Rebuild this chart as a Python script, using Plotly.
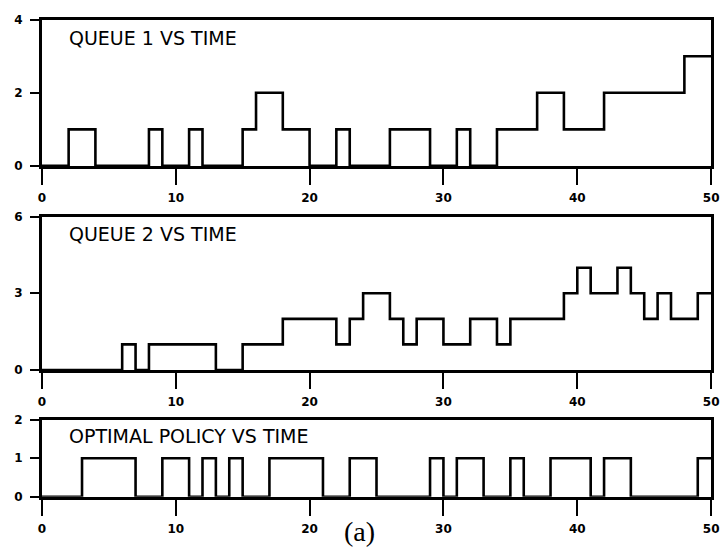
import plotly.graph_objects as go

# ---- data (step change times and the value held from that time) ----
q1_t = [0, 2, 4, 8, 9, 11, 12, 15, 16, 18, 20, 22, 23, 26, 29, 31, 32, 34, 37, 39, 42, 48, 50]
q1_v = [0, 1, 0, 1, 0, 1, 0, 1, 2, 1, 0, 1, 0, 1, 0, 1, 0, 1, 2, 1, 2, 3, 3]

q2_t = [0, 6, 7, 8, 13, 15, 18, 22, 23, 24, 26, 27, 28, 30, 32, 34, 35, 39, 40, 41, 43, 44, 45, 46, 47, 49, 50]
q2_v = [0, 1, 0, 1, 0, 1, 2, 1, 2, 3, 2, 1, 2, 1, 2, 1, 2, 3, 4, 3, 4, 3, 2, 3, 2, 3, 3]

pol_t = [0, 3, 7, 9, 11, 12, 13, 14, 15, 17, 21, 23, 25, 29, 30, 31, 33, 35, 36, 38, 41, 42, 44, 49, 50]
pol_v = [0, 1, 0, 1, 0, 1, 0, 1, 0, 1, 0, 1, 0, 1, 0, 1, 0, 1, 0, 1, 0, 1, 0, 1, 1]

titles = ["QUEUE 1 VS TIME", "QUEUE 2 VS TIME", "OPTIMAL POLICY VS TIME"]
y_ranges = [[0, 4], [0, 6], [0, 2]]
y_labels = [[0, 2, 4], [0, 3, 6], [0, 1, 2]]
x_labels = [0, 10, 20, 30, 40, 50]
caption = "(a)"

W, H = 728, 559
X0, X1 = 38.5, 719
panels_px = [(13, 163), (215, 372.3), (423.3, 502.3)]
title_y_px = [32, 233, 440]

fig = go.Figure()
series = [(q1_t, q1_v), (q2_t, q2_v), (pol_t, pol_v)]

tickfont = dict(family="DejaVu Sans", size=12, color="black", weight="bold")
for i, ((t, v), (top, bot)) in enumerate(zip(series, panels_px)):
    n = "" if i == 0 else str(i + 1)
    m = str(i + 4)   # overlay axes: minor ticks outside
    k = str(i + 7)   # overlay axes: minor ticks inside (crossing look)
    xdom = [X0 / W, X1 / W]
    ydom = [1 - bot / H, 1 - top / H]
    fig.add_trace(go.Scatter(x=t, y=v, mode="lines", line=dict(shape="hv", color="black", width=2.6),
                             xaxis="x" + n, yaxis="y" + n, showlegend=False, hoverinfo="skip"))
    fig.layout["xaxis" + n] = dict(
        domain=xdom, range=[0, 50], anchor="y" + n,
        showline=True, linecolor="black", linewidth=2.6, mirror=True,
        showgrid=False, zeroline=False,
        tickvals=x_labels, ticktext=[str(v) for v in x_labels],
        ticks="outside", ticklen=16, tickwidth=2.4, tickcolor="black",
        tickfont=tickfont, ticklabelstandoff=3,
    )
    for ax, direction, ln in ((m, "outside", 5), (k, "inside", 4)):
        fig.layout["xaxis" + ax] = dict(
            domain=xdom, range=[0, 50], anchor="y" + n, overlaying="x" + n,
            showline=False, showgrid=False, zeroline=False, showticklabels=False,
            tickmode="linear", tick0=0, dtick=2,
            ticks=direction, ticklen=ln, tickwidth=2, tickcolor="black",
        )
    fig.layout["yaxis" + n] = dict(
        domain=ydom, range=y_ranges[i], anchor="x" + n,
        showline=True, linecolor="black", linewidth=2.6, mirror=True,
        showgrid=False, zeroline=False,
        tickvals=y_labels[i], ticktext=[str(v) for v in y_labels[i]],
        ticks="outside", ticklen=9, tickwidth=2.4, tickcolor="black",
        tickfont=tickfont, ticklabelstandoff=5,
    )
    fig.layout["yaxis" + m] = dict(
        domain=ydom, range=y_ranges[i], anchor="x" + n, overlaying="y" + n,
        showline=False, showgrid=False, zeroline=False, showticklabels=False,
        tickmode="linear", tick0=0, dtick=1,
        ticks="outside", ticklen=5, tickwidth=2, tickcolor="black",
    )
    fig.add_annotation(text=titles[i], xref="paper", yref="paper",
                       x=64 / W, y=1 - title_y_px[i] / H, xanchor="left", yanchor="middle",
                       showarrow=False, font=dict(family="DejaVu Sans", size=19, color="black"))

fig.add_annotation(text=caption, xref="paper", yref="paper", x=361 / W, y=1 - 538 / H,
                   xanchor="center", yanchor="middle", showarrow=False,
                   font=dict(family="Liberation Serif", size=28, color="black"))

fig.update_layout(width=W, height=H, margin=dict(l=0, r=0, t=0, b=0),
                  paper_bgcolor="white", plot_bgcolor="white")
fig.write_html("out.html")
